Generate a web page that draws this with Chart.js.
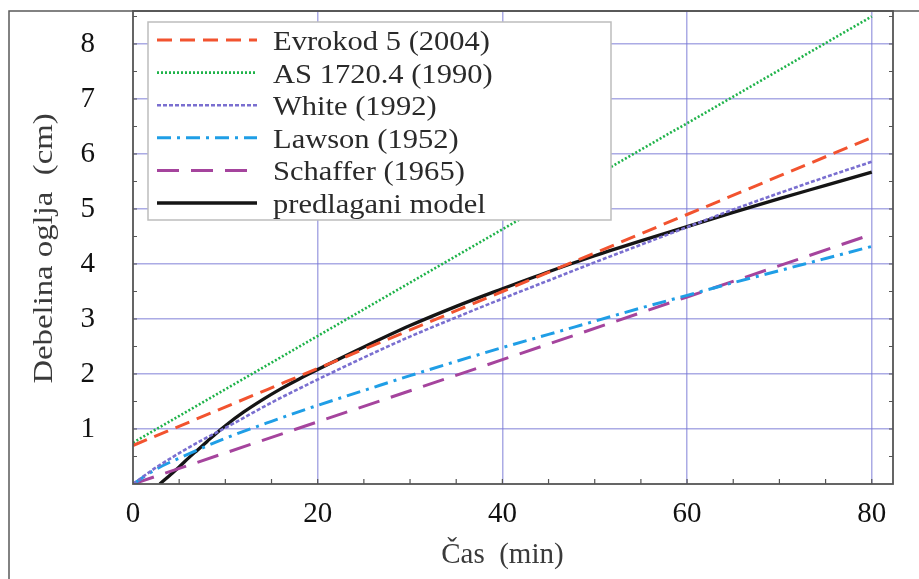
<!DOCTYPE html>
<html><head><meta charset="utf-8">
<script src="https://cdn.jsdelivr.net/npm/chart.js@4.4.1/dist/chart.umd.min.js"></script>
<style>html,body{margin:0;padding:0;background:#fff}canvas{display:block}</style>
</head><body>
<canvas id="c" width="919" height="579"></canvas>
<script>
// ---- data ----
const xTicks = [0, 20, 40, 60, 80];
const yTicks = [0, 1, 2, 3, 4, 5, 6, 7, 8];
const xTitle = 'Čas  (min)';
const yTitle = 'Debelina oglja  (cm)';
const seriesLabels = ['Evrokod 5 (2004)', 'AS 1720.4 (1990)', 'White (1992)', 'Lawson (1952)', 'Schaffer (1965)', 'predlagani model'];

const evrokodT = [0, 20, 40, 60, 80];
const evrokodD = [0.70, 2.10, 3.50, 4.90, 6.30];
const asT = [0, 20, 40, 60, 80];
const asD = [0.75, 2.69, 4.63, 6.56, 8.50];
const whiteT = [0, 2.5, 5, 7.5, 10, 15, 20, 25, 30, 35, 40, 45, 50, 55, 60, 65, 70, 75, 80];
const whiteD = [0, 0.30, 0.56, 0.80, 1.02, 1.48, 1.90, 2.30, 2.68, 3.03, 3.37, 3.70, 4.03, 4.35, 4.67, 4.99, 5.29, 5.58, 5.86];
const lawsonT = [0, 2.5, 5, 10, 15, 20, 25, 30, 35, 40, 45, 50, 55, 60, 65, 70, 75, 80];
const lawsonD = [0, 0.27, 0.47, 0.83, 1.14, 1.43, 1.70, 1.97, 2.23, 2.48, 2.72, 2.96, 3.20, 3.43, 3.66, 3.88, 4.10, 4.32];
const schafferT = [0, 20, 40, 60, 80];
const schafferD = [0, 1.13, 2.26, 3.40, 4.54];
const modelT = [2.9, 4, 5, 6, 7, 8, 9, 10, 12, 14, 16, 18, 20, 25, 30, 35, 40, 45, 50, 55, 60, 65, 70, 75, 80];
const modelD = [0, 0.16, 0.31, 0.47, 0.62, 0.77, 0.92, 1.06, 1.31, 1.53, 1.73, 1.91, 2.08, 2.49, 2.88, 3.23, 3.55, 3.86, 4.15, 4.42, 4.68, 4.94, 5.19, 5.43, 5.67];

// ---- styling ----
const SERIF = '"Liberation Serif", "DejaVu Serif", serif';
const zip = (t, d) => t.map((v, i) => ({ x: v, y: d[i] }));
function ds(label, t, d, color, dash, width) {
  return { label, data: zip(t, d), borderColor: color, backgroundColor: color, borderDash: dash,
    borderWidth: width, pointRadius: 0, fill: false, cubicInterpolationMode: 'monotone', borderCapStyle: 'butt' };
}
const datasets = [
  ds(seriesLabels[0], evrokodT, evrokodD, '#f2532f', [15, 8], 3),
  ds(seriesLabels[1], asT, asD, '#1fb34a', [2, 2], 2.6),
  ds(seriesLabels[2], whiteT, whiteD, '#7a6fd0', [4, 2], 2.6),
  ds(seriesLabels[3], lawsonT, lawsonD, '#1f9ee6', [14, 6, 3, 6], 3),
  ds(seriesLabels[4], schafferT, schafferD, '#a5449d', [22, 12], 3),
  ds(seriesLabels[5], modelT, modelD, '#151515', [], 3.3)
];

const gridColor = c => (c.tick && c.tick.value === 0) ? 'rgba(0,0,0,0)' : 'rgba(115,115,212,0.6)';

function textAt(ctx, text, x, y, size, sx, rot, align, color) {
  ctx.save();
  ctx.translate(x, y);
  ctx.rotate(rot);
  ctx.scale(sx, 1);
  ctx.font = size + 'px ' + SERIF;
  ctx.fillStyle = color;
  ctx.textAlign = align;
  ctx.textBaseline = 'alphabetic';
  ctx.fillText(text, 0, 0);
  ctx.restore();
}

const decor = {
  id: 'decor',
  afterDatasetsDraw(chart) {
    const { ctx, chartArea: a, scales } = chart;
    const xs = scales.x, ys = scales.y;
    ctx.save();
    // outer figure frame
    ctx.strokeStyle = '#5a5a5a'; ctx.lineWidth = 1.5;
    ctx.beginPath(); ctx.moveTo(9, 579); ctx.lineTo(9, a.top); ctx.lineTo(919, a.top); ctx.stroke();
    // plot frame
    ctx.strokeStyle = '#555'; ctx.lineWidth = 1.8;
    ctx.strokeRect(a.left, a.top, a.right - a.left, a.bottom - a.top);
    // inward minor ticks
    ctx.lineWidth = 1.2; ctx.strokeStyle = '#555';
    ctx.beginPath();
    for (let v = 0.5; v < ys.max; v += 0.5) {
      const p = ys.getPixelForValue(v);
      ctx.moveTo(a.left, p); ctx.lineTo(a.left + 4, p);
      ctx.moveTo(a.right, p); ctx.lineTo(a.right - 4, p);
    }
    for (let v = 5; v < xs.max; v += 5) {
      const p = xs.getPixelForValue(v);
      ctx.moveTo(p, a.bottom); ctx.lineTo(p, a.bottom - 5);
    }
    ctx.stroke();
    ctx.restore();
  },
  afterDraw(chart) {
    const { ctx, chartArea: a, scales } = chart;
    ctx.save();
    // legend box
    const bx = a.left + 15, by = a.top + 11, bw = 463, bh = 198;
    ctx.fillStyle = '#fff';
    ctx.fillRect(bx, by, bw, bh);
    ctx.strokeStyle = '#bdbdbd'; ctx.lineWidth = 1.5;
    ctx.strokeRect(bx, by, bw, bh);
    chart.data.datasets.forEach((d, i) => {
      const y = by + 18 + i * 32.6;
      ctx.save();
      ctx.strokeStyle = d.borderColor; ctx.lineWidth = d.borderWidth;
      ctx.setLineDash(d.borderDash || []);
      ctx.beginPath(); ctx.moveTo(bx + 9, y); ctx.lineTo(bx + 109, y); ctx.stroke();
      ctx.restore();
      textAt(ctx, d.label, bx + 125, y + 10, 28, 1.09, 0, 'left', '#2a2a2a');
    });
    // axis titles
    textAt(ctx, xTitle, scales.x.getPixelForValue(40), 563, 29, 1.0, 0, 'center', '#3a3a3a');
    textAt(ctx, yTitle, 52, (a.top + a.bottom) / 2 + 1, 28, 1.17, -Math.PI / 2, 'center', '#3a3a3a');
    ctx.restore();
  }
};

new Chart(document.getElementById('c'), {
  type: 'line',
  data: { datasets },
  options: {
    responsive: false, animation: false,
    layout: { padding: { left: 0, top: 11, right: 26, bottom: 0 } },
    plugins: { legend: { display: false }, tooltip: { enabled: false } },
    scales: {
      x: {
        type: 'linear', min: 0, max: 82.3,
        afterBuildTicks: s => { s.ticks = xTicks.map(v => ({ value: v })); },
        afterFit: s => { s.height = 95; s.paddingLeft = 0; s.paddingRight = 0; },
        grid: { color: gridColor, lineWidth: 1.5, drawTicks: false },
        border: { display: false },
        ticks: { padding: 13, color: '#111', maxRotation: 0, autoSkip: false, font: { family: SERIF, size: 29 } }
      },
      y: {
        type: 'linear', min: 0, max: 8.6,
        afterBuildTicks: s => { s.ticks = yTicks.map(v => ({ value: v })); },
        afterFit: s => { s.width = 133; s.paddingTop = 0; s.paddingBottom = 0; },
        grid: { color: gridColor, lineWidth: 1.5, drawTicks: false },
        border: { display: false },
        ticks: { padding: 38, color: '#111', autoSkip: false, font: { family: SERIF, size: 29 },
          callback: v => v === 0 ? '' : String(v) }
      }
    }
  },
  plugins: [decor]
});
</script>
</body></html>
